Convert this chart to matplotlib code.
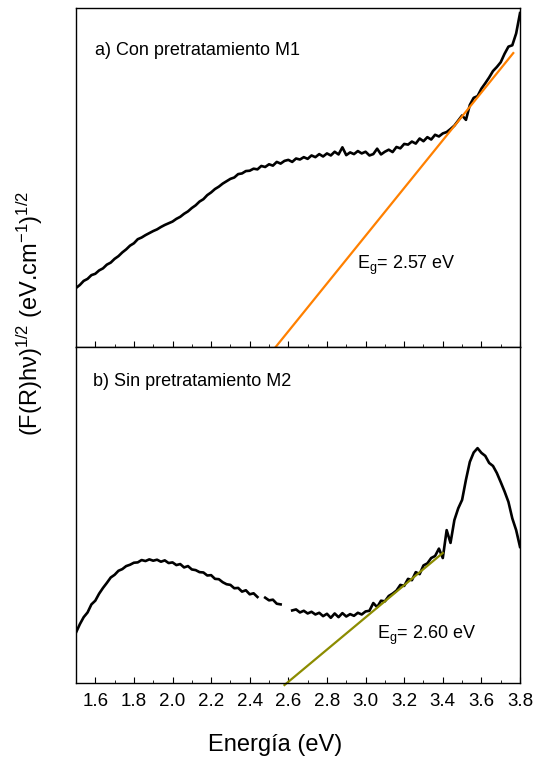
import numpy as np
import matplotlib
matplotlib.use('Agg')
import matplotlib.pyplot as plt
from matplotlib.ticker import MultipleLocator

plt.rcParams['font.family'] = ['Liberation Sans', 'DejaVu Sans']
plt.rcParams['mathtext.fontset'] = 'custom'
plt.rcParams['mathtext.rm'] = 'Liberation Sans'
plt.rcParams['mathtext.it'] = 'Liberation Sans:italic'

# energy grid (eV), 0.02 eV steps
energy = np.linspace(1.50, 3.80, 116)

# a) Con pretratamiento M1 (arbitrary units, 0-100 panel scale)
m1 = [17.4, 18.3, 19.5, 20.1, 21.2, 21.6, 22.6, 23.2, 24.3, 24.9,
      26.0, 26.8, 27.9, 28.8, 29.9, 30.6, 31.8, 32.3, 33.0, 33.6,
      34.2, 34.7, 35.4, 36.0, 36.5, 37.0, 37.8, 38.4, 39.3, 40.0,
      41.0, 41.8, 42.9, 43.6, 44.8, 45.6, 46.6, 47.3, 48.2, 48.9,
      49.6, 50.0, 51.0, 51.2, 51.9, 52.0, 52.6, 52.4, 53.4, 53.1,
      53.9, 53.5, 54.6, 54.1, 54.9, 55.2, 54.6, 55.6, 55.3, 56.0,
      55.5, 56.5, 56.0, 56.9, 56.2, 57.1, 56.5, 57.6, 56.8,
      58.9, 56.6, 57.4, 56.9, 57.8, 57.1, 57.6, 56.5, 56.9, 58.5,
      56.8, 57.6, 58.2, 57.5, 59.0, 58.6, 59.9, 59.7, 60.6, 60.0,
      61.5, 60.7, 61.9, 61.2, 62.6, 62.1, 63.0, 63.4, 64.3, 65.3,
      66.8, 68.3, 67.0, 71.4, 73.5, 74.0, 76.2, 77.8, 79.5, 81.4,
      82.6, 84.0, 86.5, 88.6, 89.0, 92.5, 98.5]

# b) Sin pretratamiento M2
nan = np.nan
m2 = [15.0, 17.5, 19.6, 21.0, 23.4, 24.5, 26.6, 28.3, 29.8, 31.4,
      32.2, 33.4, 33.9, 34.8, 35.2, 35.8, 35.9, 36.6, 36.3, 36.8,
      36.4, 36.7, 36.1, 36.5, 35.7, 35.9, 35.1, 35.4, 34.4, 34.8,
      33.8, 33.6, 33.0, 32.9, 32.0, 32.1, 31.0, 30.9, 30.0, 29.4,
      29.2, 28.2, 28.3, 27.2, 27.6, 26.4, 26.7, 25.6, nan, 25.4,
      24.6, 24.8, 23.6, 23.4, nan, nan, 21.6, 21.9, 21.0, 21.5,
      20.7, 21.2, 20.4, 20.9, 19.9, 20.6, 19.4, 20.7, 19.6, 20.8,
      19.8, 20.5, 20.0, 20.9, 20.4, 21.3, 21.5, 23.8, 22.6, 24.5,
      24.3, 25.9, 26.6, 27.5, 29.2, 28.9, 31.0, 30.6, 33.0, 32.4,
      35.0, 35.6, 37.2, 37.8, 40.0, 37.2, 45.5, 41.7, 48.5, 52.0,
      54.5, 60.5, 65.8, 68.6, 69.9, 68.5, 67.6, 65.5, 64.6, 62.5,
      59.8, 57.0, 53.9, 49.0, 45.5, 40.5]

# linear fits (Tauc extrapolation)
fit_a_x = [2.53, 3.765]
fit_a_y = [-0.3, 86.7]
fit_b_x = [2.58, 3.40]
fit_b_y = [-0.6, 38.7]

fig = plt.figure(figsize=(5.35, 7.6), dpi=100)
ax1 = fig.add_axes([0.142, 0.5434, 0.830, 0.4461])
ax2 = fig.add_axes([0.142, 0.1013, 0.830, 0.4421], sharex=ax1)

ax1.plot(energy, m1, color='black', lw=1.9)
ax1.plot(fit_a_x, fit_a_y, color='#ff8000', lw=1.6, clip_on=False)
ax2.plot(energy, m2, color='black', lw=1.9)
ax2.plot(fit_b_x, fit_b_y, color='#8c8c00', lw=1.6, clip_on=False)

for ax in (ax1, ax2):
    ax.set_ylim(0, 100)
    ax.set_yticks([])
    ax.xaxis.set_major_locator(MultipleLocator(0.2))
    ax.xaxis.set_minor_locator(MultipleLocator(0.1))
    ax.tick_params(axis='x', which='major', direction='in', length=4.3,
                   labelsize=13.5, pad=7)
    ax.tick_params(axis='x', which='minor', direction='in', length=2.2)
    for s in ax.spines.values():
        s.set_linewidth(1.0)
ax1.set_xlim(1.5, 3.8)
ax1.tick_params(axis='x', labelbottom=False)

ax1.text(0.043, 0.876, 'a) Con pretratamiento M1', transform=ax1.transAxes,
         fontsize=13, va='center')
ax2.text(0.038, 0.896, 'b) Sin pretratamiento M2', transform=ax2.transAxes,
         fontsize=13, va='center')
ax1.text(0.633, 0.242, r'E$_\mathrm{g}$= 2.57 eV', transform=ax1.transAxes,
         fontsize=13, va='center')
ax2.text(0.677, 0.143, r'E$_\mathrm{g}$= 2.60 eV', transform=ax2.transAxes,
         fontsize=13, va='center')

fig.text(0.514, 0.0197, 'Energía (eV)', fontsize=17, ha='center', va='center')
fig.text(0.056, 0.588, r'(F(R)hν)$^{\mathrm{1/2}}$ (eV.cm$^{\mathrm{-1}}$)$^{\mathrm{1/2}}$',
         fontsize=17, rotation=90, ha='center', va='center')

fig.savefig('out.png', dpi=100)
